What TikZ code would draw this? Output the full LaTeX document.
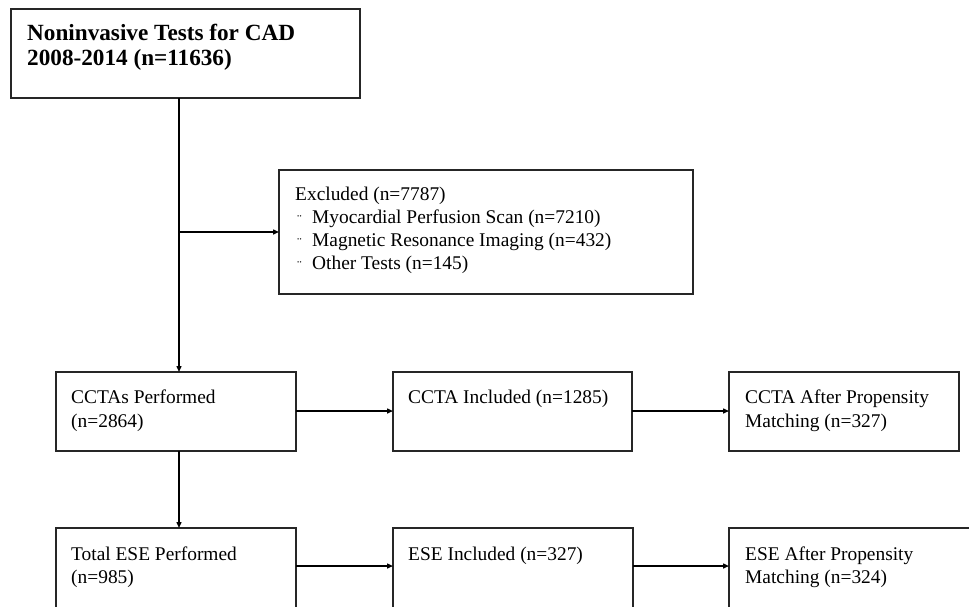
\documentclass[tikz,border=0pt]{standalone}
\usepackage{fontspec}
\setmainfont{Liberation Serif}
\usetikzlibrary{arrows.meta}
\begin{document}
\begin{tikzpicture}[x=1pt,y=-1pt,
  box/.style={draw=black!85, line width=1.4pt, inner sep=0pt, outer sep=0pt, anchor=north west},
  txt/.style={anchor=base west, inner sep=0pt, font=\fontsize{19.4}{23.5}\selectfont},
  ttl/.style={anchor=base west, inner sep=0pt, font=\fontsize{23.2}{25}\selectfont\bfseries},
  bul/.style={anchor=base west, inner sep=0pt, font=\fontsize{14}{16}\selectfont},
  arr/.style={line width=1.4pt, draw=black, -{Triangle[length=6pt,width=5pt]}}]
\useasboundingbox (0,0) rectangle (969,606);
\clip (0,0) rectangle (969,606);
\fill[white] (0,0) rectangle (969,606);
% boxes
\node[box, minimum width=349pt, minimum height=89pt] (top) at (11,9) {};
\node[box, minimum width=414pt, minimum height=124pt] (excl) at (279,170) {};
\node[box, minimum width=240pt, minimum height=79pt] (cctas) at (56,372) {};
\node[box, minimum width=239pt, minimum height=79pt] (ccin) at (393,372) {};
\node[box, minimum width=230pt, minimum height=79pt] (ccaf) at (729,372) {};
\node[box, minimum width=240pt, minimum height=120pt] (tese) at (56,528) {};
\node[box, minimum width=240pt, minimum height=120pt] (esein) at (393,528) {};
\node[box, minimum width=250pt, minimum height=120pt] (eseaf) at (729,528) {};
% texts
\node[ttl] (t1) at (27,40) {Noninvasive Tests for CAD};
\node[ttl] (t2) at (27,65) {2008-2014 (n=11636)};
\node[txt] (e0) at (295,200) {Excluded (n=7787)};
\node[bul] (b1) at (297,224) {¨};
\node[bul] (b2) at (297,247) {¨};
\node[bul] (b3) at (297,270) {¨};
\node[txt] (e1) at (312,223) {Myocardial Perfusion Scan (n=7210)};
\node[txt] (e2) at (312,246) {Magnetic Resonance Imaging (n=432)};
\node[txt] (e3) at (312,269) {Other Tests (n=145)};
\node[txt] (c1) at (71,403) {CCTAs Performed};
\node[txt] (c2) at (71,427) {(n=2864)};
\node[txt] (c3) at (408,403) {CCTA Included (n=1285)};
\node[txt] (c4) at (745,403) {CCTA After Propensity};
\node[txt] (c5) at (745,427) {Matching (n=327)};
\node[txt] (s1) at (71,560) {Total ESE Performed};
\node[txt] (s2) at (71,583) {(n=985)};
\node[txt] (s3) at (408,560) {ESE Included (n=327)};
\node[txt] (s4) at (745,560) {ESE After Propensity};
\node[txt] (s5) at (745,583) {Matching (n=324)};
% connectors
\coordinate (vx) at (179,0);
\coordinate (ax) at (0,411);
\coordinate (ay) at (0,566);
\draw[arr] (vx |- top.south) -- (vx |- cctas.north);
\draw[arr] (vx |- excl.west) -- (excl.west);
\draw[arr] (cctas.east |- ax) -- (ccin.west |- ax);
\draw[arr] (ccin.east |- ax) -- (ccaf.west |- ax);
\draw[arr] (vx |- cctas.south) -- (vx |- tese.north);
\draw[arr] (tese.east |- ay) -- (esein.west |- ay);
\draw[arr] (esein.east |- ay) -- (eseaf.west |- ay);
\end{tikzpicture}
\end{document}
